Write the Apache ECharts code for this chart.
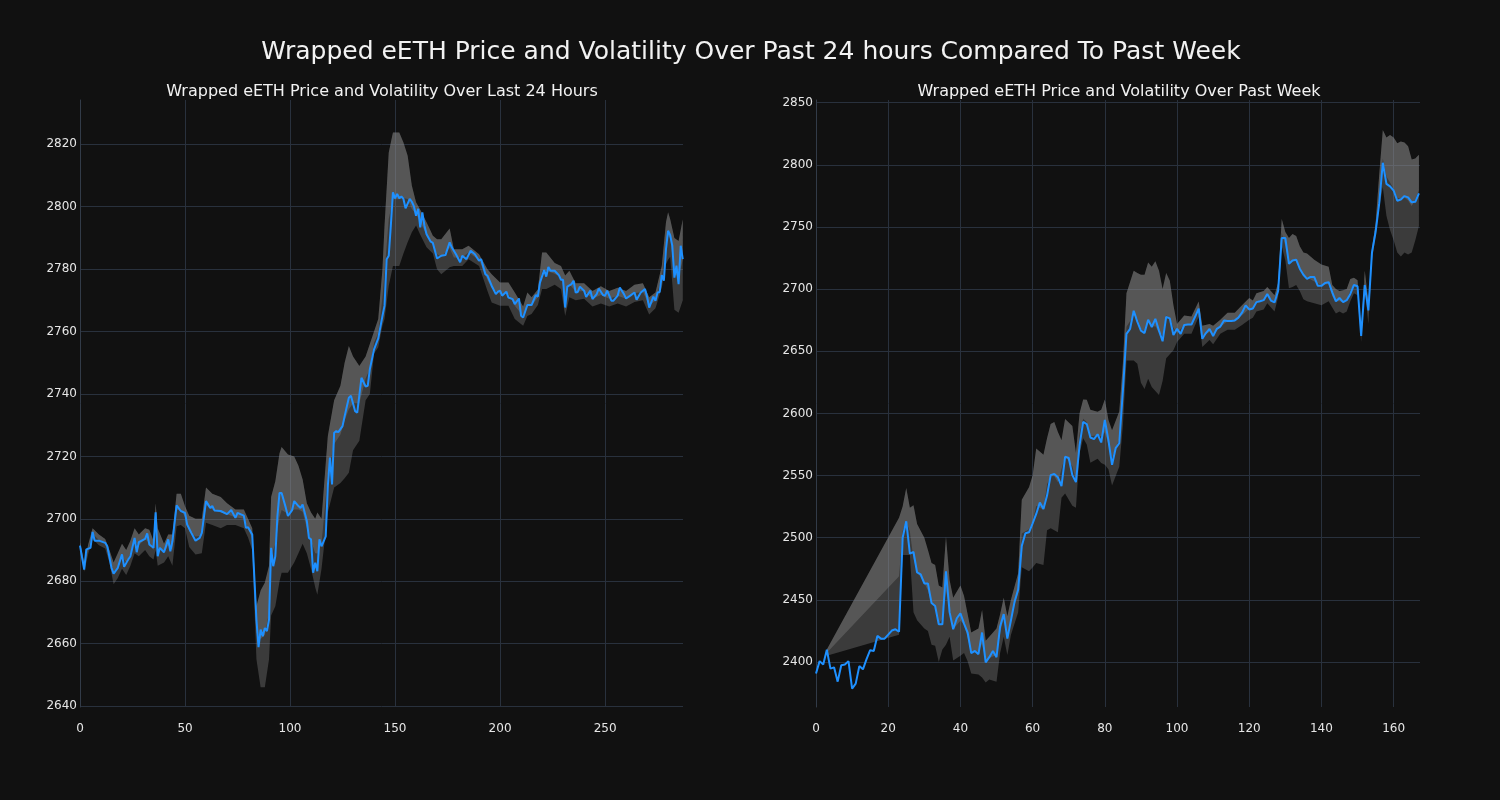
<!DOCTYPE html>
<html>
<head>
<meta charset="utf-8">
<script src="https://cdn.jsdelivr.net/npm/echarts@6/dist/echarts.min.js"></script>
<style>
html,body{margin:0;padding:0;background:#111111;}
#chart{width:1500px;height:800px;}
</style>
</head>
<body>
<div id="chart"></div>
<script>
// ---------- Last 24 hours ----------
const LEFT_X = [0,2,3,5,6,7,9,12,13,15,16,18,20,21,23,24,26,27,28,31,32,33,35,36,37,38,40,42,43,44,46,48,50,51,53,55,57,58,60,62,63,64,67,70,72,74,75,78,79,80,82,84,85,86,87,88,89,90,91,92,93,94,95,96,98,99,101,102,104,105,106,108,109,110,111,112,113,114,115,117,118,119,120,121,122,123,125,126,128,129,131,132,134,136,137,138,140,142,144,145,146,147,148,149,150,151,152,153,154,155,157,158,159,160,161,162,163,164,165,167,168,170,172,174,176,177,179,181,182,184,186,188,190,191,193,194,196,198,199,200,201,203,204,206,207,209,210,211,213,215,217,218,219,221,222,223,224,226,228,229,230,231,232,234,235,236,237,238,240,241,243,244,246,247,249,250,251,253,254,256,257,259,260,262,264,265,267,269,270,271,273,274,275,276,277,278,279,280,281,282,283,284,285,286,287];
const LEFT_PRICE = [2691.4,2683.7,2690.2,2690.7,2695.8,2693,2693,2692.3,2691.2,2684.3,2682.4,2684.3,2688.6,2684.6,2687,2688,2693.9,2689.3,2692.5,2693.6,2695.3,2691.8,2690.7,2702.1,2688,2690.7,2689.3,2693.4,2689.6,2692.8,2704.3,2702.5,2701.9,2698.2,2695.5,2693,2693.9,2695.5,2705.7,2703.5,2704.1,2702.7,2702.5,2701.5,2702.8,2700.3,2701.9,2701,2697.1,2697.3,2695,2667.7,2658.9,2664.5,2662.4,2665,2664,2667.7,2690.7,2684.8,2688,2700.9,2708.3,2708.3,2703.5,2700.9,2702.8,2705.7,2704.1,2703.5,2704.6,2699.3,2693.9,2693.4,2682.7,2685.9,2683.2,2693.4,2691.2,2694.4,2710.5,2719.6,2711,2727.6,2728.1,2727.8,2729.7,2732.9,2738.8,2739.4,2734.5,2734,2745.2,2742.4,2742.6,2747.9,2754.3,2757.8,2765,2768.3,2783.2,2784.3,2794,2804.6,2802.7,2804.1,2802.7,2803.3,2802.5,2799.5,2802.5,2801.6,2800.1,2797.1,2799.3,2793.4,2798.2,2793.9,2791.2,2788.8,2788.4,2783.4,2784.3,2784.5,2788.6,2787,2784.8,2782.2,2784.3,2783.2,2785.9,2784.8,2782.7,2783.2,2778.4,2777.9,2774.7,2772,2772.8,2773.1,2771.5,2772.8,2770.9,2770.4,2768.8,2770.6,2765.1,2764.5,2768.5,2768.5,2771.7,2771.2,2775.7,2779.7,2777.6,2780.7,2779.5,2779.5,2778.1,2776.6,2776.6,2767.7,2774.4,2775.2,2776.3,2772.5,2772.7,2774.4,2773.1,2771.1,2773.1,2770.4,2772,2773.8,2771.7,2771.5,2773.1,2769.9,2769.9,2771.5,2774.1,2772,2770.6,2771.5,2772.5,2770.2,2772.5,2773.6,2771.2,2767.7,2771.2,2769.9,2772.5,2772.7,2778.1,2776.3,2786.4,2792.3,2790.9,2787.5,2777.3,2781.1,2775.2,2787.5,2783.2];
const LEFT_BAND_X = [0,2,4,6,9,12,14,16,18,20,22,24,26,28,31,33,35,36,37,40,42,44,46,48,50,52,55,58,60,63,67,70,74,78,80,82,84,86,88,90,91,93,95,96,99,102,104,106,108,110,112,113,115,118,121,124,126,128,130,133,136,138,140,142,144,145,147,149,152,154,156,158,160,162,165,168,170,172,176,178,182,185,190,194,196,200,204,207,211,213,215,218,220,222,226,229,231,233,236,240,244,248,252,256,260,264,268,271,274,277,279,280,281,283,285,287];
const LEFT_BAND_LO = [2689.5,2683,2689,2693.5,2691.5,2690.5,2686,2679,2681,2684,2682,2685,2689,2688,2690,2688,2687,2690,2685,2686,2688,2685,2697.6,2698,2697,2691,2688.6,2689,2698.7,2698,2697,2698,2698,2697,2694,2690,2655,2646,2646,2655,2669,2672,2680,2682.7,2682.7,2686,2689,2692,2689,2684,2678,2675.7,2684,2702,2710,2711.5,2713,2714.8,2722,2725,2738,2740,2753,2755,2761.9,2764,2774.7,2781,2781,2785,2788.6,2791.8,2794,2791,2787,2785,2780,2778.4,2780.6,2781,2781,2783.2,2781,2773,2769.3,2768.3,2768.3,2764,2761.9,2765,2765.6,2768.5,2773.6,2773.6,2775,2773.6,2765,2771,2770,2770.5,2768,2769,2768,2769,2768,2769.5,2770,2765.5,2767.5,2774,2781.6,2783,2784,2767,2766,2770];
const LEFT_BAND_HI = [2692.5,2686,2692,2697,2695,2693.5,2690,2686,2689,2692,2690,2693,2697,2695,2697,2696.5,2693,2705,2697,2692,2695,2695,2708,2708,2704,2701,2700,2700,2710,2708,2707,2705,2703,2703,2700,2697,2672,2677,2679.5,2685,2707,2712,2721,2723,2720.6,2720,2717,2712.6,2705,2702,2700,2702,2700,2726.5,2738,2742.6,2750,2755.4,2752,2749,2752,2756,2760,2764,2780,2794,2817.4,2823.8,2823.8,2820.6,2816.3,2806.7,2801.4,2799,2795,2790.7,2789.6,2789.6,2793,2786.4,2786.4,2787.5,2784.8,2780,2778.4,2775.7,2775.7,2772.5,2768,2772.5,2771,2773.5,2785.3,2785.3,2782,2781,2778,2779.5,2775.5,2775.5,2773,2774.5,2773,2774,2773,2775,2775.5,2771,2772.5,2781,2795,2798.2,2796,2790,2789,2796];

// ---------- Past week ----------
const RIGHT_X = [0,1,2,3,4,5,6,7,8,9,10,11,12,13,14,15,16,17,18,19,20,21,22,23,24,25,26,27,28,29,30,31,32,33,34,35,36,37,38,39,40,41,42,43,44,45,46,47,48,49,50,51,52,53,54,55,56,57,58,59,60,61,62,63,64,65,66,67,68,69,70,71,72,73,74,75,76,77,78,79,80,81,82,83,84,85,86,87,88,89,90,91,92,93,94,95,96,97,98,99,100,101,102,103,104,105,106,107,108,109,110,111,112,113,114,115,116,117,118,119,120,121,122,123,124,125,126,127,128,129,130,131,132,133,134,135,136,137,138,139,140,141,142,143,144,145,146,147,148,149,150,151,152,153,154,155,156,157,158,159,160,161,162,163,164,165,166,167];
const RIGHT_PRICE = [2390.8,2400.7,2398,2409.9,2394.7,2395.7,2384.2,2397.4,2398,2400.7,2378.6,2382.6,2396.7,2394.1,2402.3,2409.5,2408.9,2421,2418.8,2418.8,2422,2425.3,2426.3,2424.3,2500,2513.2,2487.2,2488.5,2472,2470.4,2463.2,2463.2,2447.4,2445,2430.3,2430.3,2473,2440.1,2426.3,2435.2,2439.1,2430.9,2423.7,2407.2,2408.9,2406.3,2423.7,2399.7,2403.9,2408.9,2403.9,2428.6,2438.5,2418.8,2433.6,2448.4,2458.2,2493.4,2503.6,2504.3,2511.5,2519.1,2528.3,2523,2533.9,2550.3,2551.3,2548.7,2541.4,2565.1,2564.1,2550.3,2544.7,2574.3,2593.1,2591.4,2580.6,2579.3,2583.2,2576.6,2594.7,2578.3,2558.6,2572,2576,2618,2664,2668,2682.6,2673.8,2666.6,2664.6,2675.4,2669.5,2676.1,2666.6,2658,2677.7,2676.4,2663,2668,2664,2671.1,2671.5,2671.5,2677.7,2684.3,2660,2664.6,2668,2662.3,2668,2669.8,2674.8,2674.4,2674.4,2674.8,2677,2681,2686.9,2683.6,2684.3,2689.5,2690.2,2691.1,2696.1,2690.8,2689.2,2698.4,2741,2741,2720.3,2723,2723.6,2716.4,2711.5,2708.2,2709.8,2709.8,2702.6,2702.6,2704.9,2705.6,2697.4,2690.2,2692.8,2689.5,2691.1,2696.1,2703.3,2702.3,2662.3,2703.3,2682.9,2729.5,2745.9,2768.9,2801.6,2784.6,2782.6,2779.3,2771.1,2772.1,2774.8,2773.8,2769.8,2770.2,2777];
const RIGHT_BAND_X = [3,23,24,25,26,27,28,30,31,32,33,34,35,36,37,38,40,41,42,43,45,46,47,48,50,51,52,53,54,56,57,59,60,61,63,64,65,66,67,68,69,71,72,73,74,75,76,78,79,80,81,82,84,85,86,88,89,90,91,92,93,94,95,96,97,98,99,100,102,104,106,107,109,110,112,114,116,118,120,121,122,124,125,127,128,129,130,131,132,133,134,135,136,138,140,142,143,144,145,146,147,148,149,150,151,152,153,154,155,156,157,158,159,160,161,162,163,164,165,166,167];
const RIGHT_BAND_LO = [2405,2422,2486,2486,2486,2440,2433.6,2427,2425,2413.8,2413,2400,2410,2413.8,2420.4,2401.3,2405,2407.2,2400.7,2390.8,2390,2387.5,2383.6,2386,2384.2,2407.2,2420.4,2405.6,2422,2440,2476.3,2473,2476,2479.6,2478,2506,2507.6,2506,2504.3,2532.2,2535.5,2525.7,2524,2568,2580,2575,2560.2,2563.5,2560,2558.6,2555,2542,2557,2590,2642.6,2642.6,2640,2624.6,2619.7,2627.9,2621.3,2618,2614.8,2626,2644.3,2647.5,2650.8,2657.4,2664,2664,2677.7,2653.4,2659,2655.7,2664,2667.2,2667.2,2671.1,2675.4,2677,2682,2683.6,2688.5,2682,2693.4,2734.4,2723,2700.7,2701.6,2703.3,2698.4,2691.8,2690.2,2688.5,2686.9,2690.2,2685.2,2680.3,2682,2680.3,2682,2690.2,2696.7,2695,2657.4,2700,2672,2723,2742.6,2765.6,2782,2759,2747.5,2739.3,2729.5,2726.2,2729.5,2727.9,2729.5,2739.3,2750.8];
const RIGHT_BAND_HI = [2410,2516,2525,2540,2524,2526,2511,2500,2490,2479.6,2478,2461.5,2460,2501,2466,2451.6,2461.5,2453,2438.5,2423.7,2427,2441.8,2417,2420.4,2427,2438.5,2451.6,2436.8,2450,2471.4,2530.6,2540.5,2550,2571.7,2566.8,2580,2591.4,2593,2585,2578.3,2595.4,2589.8,2568.4,2600,2611.2,2611,2603,2601.3,2603,2611.2,2594.7,2586.5,2601.6,2640,2696.7,2714.8,2713,2711.5,2711.5,2721.3,2718,2722.3,2714.8,2700,2713,2706.6,2686.9,2672,2678.7,2678,2690,2670.5,2672,2670.5,2675.4,2681,2681,2686.9,2692.8,2690.8,2696.7,2698.4,2701.6,2695,2705,2756.4,2745.9,2741,2744.3,2742.6,2734.4,2729.5,2728.7,2723.6,2719.7,2718,2703.3,2700,2698.4,2699,2700,2708.2,2709.2,2707,2667,2714.8,2690,2732.8,2752.5,2791.8,2827.9,2822,2824,2822,2817.4,2818.7,2818,2814.8,2804.3,2805,2808];

const MAIN_TITLE = 'Wrapped eETH Price and Volatility Over Past 24 hours Compared To Past Week';
const LEFT_TITLE = 'Wrapped eETH Price and Volatility Over Last 24 Hours';
const RIGHT_TITLE = 'Wrapped eETH Price and Volatility Over Past Week';

const FONT = 'DejaVu Sans';
const GRID_COLOR = '#29313d';
const BAND_COLOR = 'rgba(140,140,140,0.34)';
const LINE_COLOR = '#1e90ff';

function pairs(xs, ys) { return xs.map((x, i) => [x, ys[i]]); }

// band drawn as polygons through the axis scales (api.coord)
function bandSeries(idx, bx, lo, hi) {
  const mid = lo.map((v, i) => (v + hi[i]) / 2);
  function poly(api, lower, upper) {
    const pts = [];
    for (let i = 0; i < bx.length; i++) pts.push(api.coord([bx[i], upper[i]]));
    for (let i = bx.length - 1; i >= 0; i--) pts.push(api.coord([bx[i], lower[i]]));
    return pts;
  }
  return {
    type: 'custom', xAxisIndex: idx, yAxisIndex: idx, silent: true, animation: false, z: 1,
    data: bx.map((x, i) => [x, lo[i], hi[i]]),
    encode: { x: 0, y: [1, 2] },
    renderItem: function (params, api) {
      if (params.dataIndex !== 0) return null;
      return {
        type: 'group',
        children: [
          { type: 'polygon', shape: { points: poly(api, lo, hi) }, style: { fill: BAND_COLOR, stroke: null } },
          { type: 'polygon', shape: { points: poly(api, mid, hi) }, style: { fill: BAND_COLOR, stroke: null } }
        ]
      };
    }
  };
}

function xAxis(idx, max, step) {
  return {
    type: 'value', gridIndex: idx, min: 0, max: max, minInterval: step, maxInterval: step, splitNumber: 6,
    axisLine: { show: false }, axisTick: { show: false },
    axisLabel: { color: '#e6e6e6', fontFamily: FONT, fontSize: 12, margin: 16, showMaxLabel: false,
                 formatter: v => String(Math.round(v)) },
    splitLine: { show: true, showMaxLine: false, lineStyle: { color: GRID_COLOR, width: 1 } }
  };
}
function yAxis(idx, min, max, step) {
  return {
    type: 'value', gridIndex: idx, min: min, max: max, minInterval: step, maxInterval: step, splitNumber: 10,
    axisLine: { show: true, lineStyle: { color: '#323b48', width: 1 } }, axisTick: { show: false },
    axisLabel: { color: '#e6e6e6', fontFamily: FONT, fontSize: 12, margin: 3, showMinLabel: false, showMaxLabel: false,
                 formatter: v => String(Math.round(v)) },
    splitLine: { show: true, showMinLine: false, showMaxLine: false, lineStyle: { color: GRID_COLOR, width: 1 } }
  };
}

const chart = echarts.init(document.getElementById('chart'), null, { renderer: 'canvas' });
chart.setOption({
  backgroundColor: '#111111',
  animation: false,
  title: [
    { text: MAIN_TITLE, left: 746, top: 35, textAlign: 'center',
      textStyle: { color: '#f2f2f2', fontFamily: FONT, fontSize: 25, fontWeight: 'normal' } },
    { text: LEFT_TITLE, left: 377, top: 79, textAlign: 'center',
      textStyle: { color: '#f2f2f2', fontFamily: FONT, fontSize: 16, fontWeight: 'normal' } },
    { text: RIGHT_TITLE, left: 1114, top: 79, textAlign: 'center',
      textStyle: { color: '#f2f2f2', fontFamily: FONT, fontSize: 16, fontWeight: 'normal' } }
  ],
  grid: [
    { left: 80, top: 100, width: 603, height: 607 },
    { left: 816, top: 100, width: 604, height: 607 }
  ],
  xAxis: [xAxis(0, 287.1, 50), xAxis(1, 167.3, 20)],
  yAxis: [yAxis(0, 2639.7, 2834.2, 20), yAxis(1, 2363.8, 2852.1, 50)],
  series: [
    bandSeries(0, LEFT_BAND_X, LEFT_BAND_LO, LEFT_BAND_HI),
    bandSeries(1, RIGHT_BAND_X, RIGHT_BAND_LO, RIGHT_BAND_HI),
    { type: 'line', xAxisIndex: 0, yAxisIndex: 0, data: pairs(LEFT_X, LEFT_PRICE), showSymbol: false, symbol: 'none',
      lineStyle: { color: LINE_COLOR, width: 2 }, z: 5, animation: false },
    { type: 'line', xAxisIndex: 1, yAxisIndex: 1, data: pairs(RIGHT_X, RIGHT_PRICE), showSymbol: false, symbol: 'none',
      lineStyle: { color: LINE_COLOR, width: 2 }, z: 5, animation: false }
  ]
});
</script>
</body>
</html>
